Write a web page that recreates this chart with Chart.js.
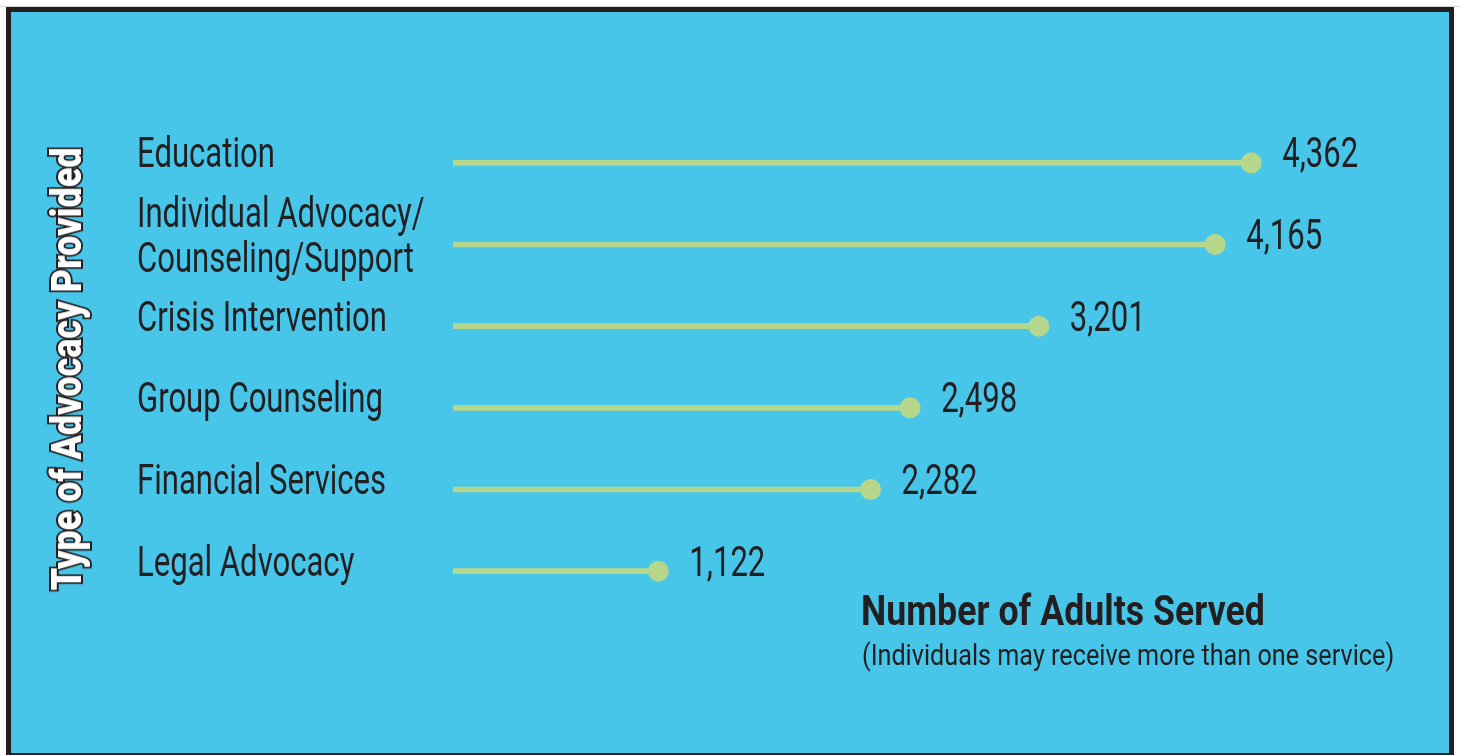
<!DOCTYPE html>
<html>
<head>
<meta charset="utf-8">
<script src="https://cdn.jsdelivr.net/npm/chart.js@4"></script>
<style>
  html, body { margin:0; padding:0; background:#ffffff; width:1460px; height:755px; overflow:hidden; }
  #topline { position:absolute; left:0; top:6px; width:1460px; height:1px; background:#d6d6d6; }
  #frame { position:absolute; left:6px; top:7px; width:1438px; height:741px; border:5px solid #231f20; background:#47c6ea; }
  #chart { position:absolute; left:0; top:0; }
  .txt { position:absolute; color:#231f20; font-family:Roboto,"DejaVu Sans Condensed",sans-serif; white-space:nowrap; }
  #ytitle { left:67px; top:369px; font-size:42px; line-height:42px; font-weight:900; color:#ffffff;
            transform:translate(-50%,-50%) rotate(-90deg) scaleX(0.856);
            -webkit-text-stroke:4px #231f20; paint-order:stroke fill; }
  #xtitle { left:861px; top:590px; font-size:42px; line-height:42px; font-weight:bold; transform-origin:0 0; transform:scaleX(0.85); }
  #xsub { left:862px; top:640px; font-size:30px; line-height:30px; transform-origin:0 0; transform:scaleX(0.84); }
</style>
</head>
<body>
<div id="topline"></div>
<div id="frame"></div>
<canvas id="chart" width="1460" height="755"></canvas>
<div class="txt" id="ytitle">Type of Advocacy Provided</div>
<div class="txt" id="xtitle">Number of Adults Served</div>
<div class="txt" id="xsub">(Individuals may receive more than one service)</div>
<script>
const categories = [
  "Education",
  ["Individual Advocacy/", "Counseling/Support"],
  "Crisis Intervention",
  "Group Counseling",
  "Financial Services",
  "Legal Advocacy"
];
const adultsServed = [4362, 4165, 3201, 2498, 2282, 1122];
const valueLabels = ["4,362", "4,165", "3,201", "2,498", "2,282", "1,122"];

const FONT = 'Roboto,"DejaVu Sans Condensed",sans-serif';
const INK = '#231f20';
const GREEN = '#b6d68c';
const SQUEEZE = 0.74;

function squeezedText(ctx, text, x, y) {
  ctx.save();
  ctx.translate(x, y);
  ctx.scale(SQUEEZE, 1);
  ctx.fillText(text, 0, 0);
  ctx.restore();
}

const textPlugin = {
  id: 'lollipopText',
  afterDatasetsDraw(chart) {
    const ctx = chart.ctx;
    const yScale = chart.scales.y;
    const meta = chart.getDatasetMeta(1);
    ctx.save();
    ctx.font = '42px ' + FONT;
    ctx.fillStyle = INK;
    ctx.textAlign = 'left';
    ctx.textBaseline = 'middle';
    categories.forEach((lab, i) => {
      const y = yScale.getPixelForValue(i) - 6;
      const lines = Array.isArray(lab) ? lab : [lab];
      const lh = 45;
      lines.forEach((ln, j) => {
        const yy = y + (j - (lines.length - 1) / 2) * lh;
        squeezedText(ctx, ln, 137, yy);
      });
    });
    meta.data.forEach((pt, i) => {
      squeezedText(ctx, valueLabels[i], pt.x + 31, pt.y - 6);
    });
    ctx.restore();
  }
};

new Chart(document.getElementById('chart'), {
  type: 'bar',
  data: {
    labels: categories,
    datasets: [
      {
        type: 'bar',
        indexAxis: 'y',
        data: adultsServed,
        backgroundColor: GREEN,
        barThickness: 5,
        borderWidth: 0,
        order: 2
      },
      {
        type: 'line',
        indexAxis: 'y',
        data: adultsServed,
        showLine: false,
        pointRadius: 10.5,
        pointHoverRadius: 10.5,
        pointBackgroundColor: GREEN,
        pointBorderWidth: 0,
        clip: false,
        order: 1
      }
    ]
  },
  options: {
    indexAxis: 'y',
    responsive: false,
    animation: false,
    events: [],
    layout: { padding: { left: 453, right: 92, top: 122, bottom: 143 } },
    plugins: { legend: { display: false }, tooltip: { enabled: false } },
    scales: {
      x: { type: 'linear', min: 0, max: 5000, display: false },
      y: { type: 'category', offset: true, display: false }
    }
  },
  plugins: [textPlugin]
});
</script>
</body>
</html>
